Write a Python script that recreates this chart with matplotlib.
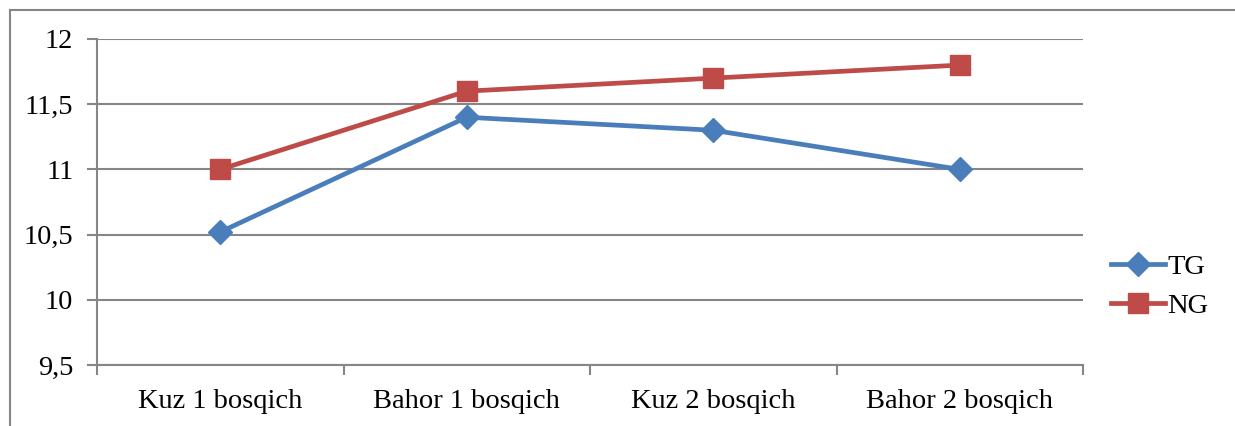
import matplotlib.pyplot as plt
from matplotlib.lines import Line2D

categories = ['Kuz 1 bosqich', 'Bahor 1 bosqich', 'Kuz 2 bosqich', 'Bahor 2 bosqich']
tg_values = [10.52, 11.4, 11.3, 11.0]
ng_values = [11.0, 11.6, 11.7, 11.8]
y_ticks = [9.5, 10, 10.5, 11, 11.5, 12]
y_labels = ['9,5', '10', '10,5', '11', '11,5', '12']

plt.rcParams['font.family'] = ['Liberation Serif', 'DejaVu Serif']
grid_color = '#868686'
fs = 20.5

fig = plt.figure(figsize=(12.35, 4.26), dpi=100)
ax = fig.add_axes([97 / 1235, 1 - 365 / 426, (1083 - 97) / 1235, (365 - 39) / 426])

# outer chart border (left and top only visible)
fig.add_artist(Line2D([10 / 1235, 10 / 1235], [0, 1 - 10 / 426], color=grid_color, lw=1.5))
fig.add_artist(Line2D([10 / 1235, 1], [1 - 10 / 426, 1 - 10 / 426], color=grid_color, lw=1.5))

x = list(range(len(categories)))
ax.plot(x, tg_values, color='#4A7EBB', lw=3.4, marker='D', markersize=12.5, label='TG', zorder=3)
ax.plot(x, ng_values, color='#BE4B48', lw=3.4, marker='s', markersize=14, label='NG', zorder=4)

ax.set_xlim(-0.5, len(categories) - 0.5)
ax.set_ylim(9.5, 12)
ax.set_yticks(y_ticks)
ax.set_yticklabels(y_labels, fontsize=fs)
ax.set_xticks(x)
ax.set_xticklabels(categories, fontsize=fs)
ax.tick_params(axis='x', length=0, pad=17)
ax.tick_params(axis='y', length=7, color=grid_color, width=1.5, pad=10)
ax.set_xticks([i - 0.5 for i in range(len(categories) + 1)], minor=True)
ax.tick_params(axis='x', which='minor', length=7, color=grid_color, width=1.5)

ax.grid(axis='y', color=grid_color, lw=1.5)
for s in ['top', 'right']:
    ax.spines[s].set_visible(False)
for s in ['left', 'bottom']:
    ax.spines[s].set_color(grid_color)
    ax.spines[s].set_linewidth(1.5)

ax.legend(loc='center left', bbox_to_anchor=(1.002, 0.24), frameon=False, fontsize=fs,
          handlelength=1.9, handletextpad=0.1, labelspacing=0.45)

fig.savefig('out.png', dpi=100)
